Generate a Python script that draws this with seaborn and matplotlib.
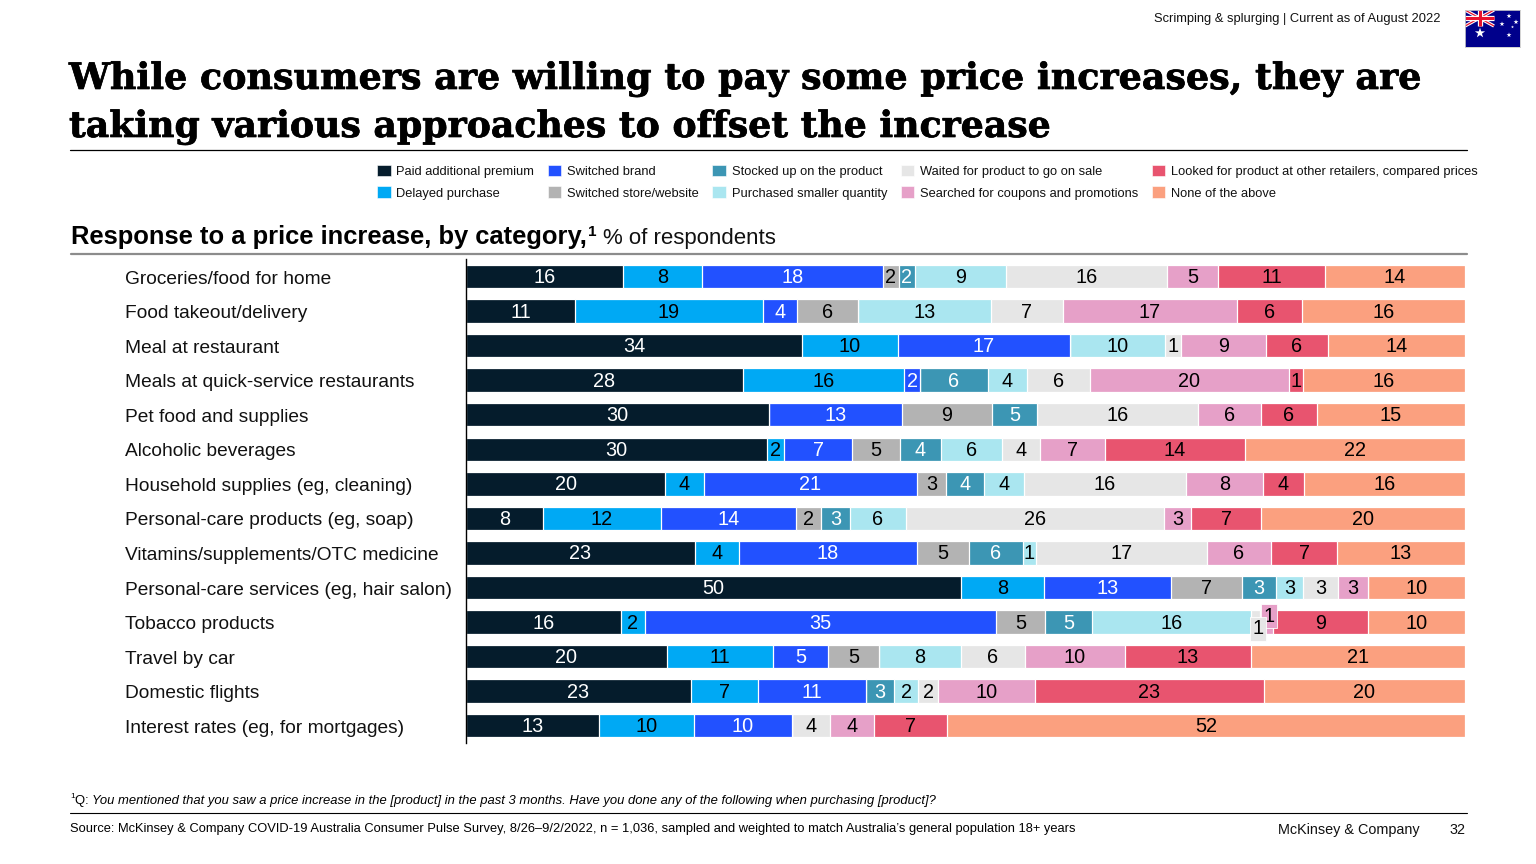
import numpy as np
import pandas as pd
import seaborn as sns
import matplotlib.pyplot as plt
import matplotlib.patheffects as pe
from matplotlib.lines import Line2D
from matplotlib.patches import Patch
from matplotlib.transforms import ScaledTranslation

W, H = 1536, 864

categories = ["Groceries/food for home", "Food takeout/delivery", "Meal at restaurant",
              "Meals at quick-service restaurants", "Pet food and supplies", "Alcoholic beverages",
              "Household supplies (eg, cleaning)", "Personal-care products (eg, soap)",
              "Vitamins/supplements/OTC medicine", "Personal-care services (eg, hair salon)",
              "Tobacco products", "Travel by car", "Domestic flights", "Interest rates (eg, for mortgages)"]

series_names = ["Paid additional premium", "Delayed purchase", "Switched brand", "Switched store/website",
                "Stocked up on the product", "Purchased smaller quantity", "Waited for product to go on sale",
                "Searched for coupons and promotions", "Looked for product at other retailers, compared prices",
                "None of the above"]
colors = ["#051C2C", "#00A9F4", "#2251FF", "#B3B3B3", "#3C96B4", "#AAE6F0", "#E6E6E6", "#E6A0C8", "#E8546F", "#FBA07F"]
text_colors = ["white", "black", "white", "black", "white", "black", "black", "black", "black", "black"]

# unrounded shares
paid = [15.7, 10.9, 33.6, 27.7, 30.3, 30.1, 19.9, 7.7, 22.9, 49.5, 15.5, 20.1, 22.5, 13.3]
delayed = [7.9, 18.8, 9.6, 16.1, 0, 1.7, 3.9, 11.8, 4.4, 8.3, 2.4, 10.6, 6.7, 9.5]
brand = [18.1, 3.4, 17.2, 1.6, 13.3, 6.8, 21.3, 13.5, 17.8, 12.7, 35.1, 5.5, 10.8, 9.8]
store = [1.6, 6.1, 0, 0, 9.0, 4.8, 2.9, 2.5, 5.2, 7.1, 4.9, 5.1, 0, 0]
stocked = [1.6, 0, 0, 6.8, 4.5, 4.1, 3.8, 2.9, 5.4, 3.4, 4.7, 0, 2.8, 0]
smaller = [9.1, 13.3, 9.5, 3.9, 0, 6.1, 4.0, 5.6, 1.3, 2.7, 15.9, 8.2, 2.4, 0]
waited = [16.1, 7.2, 1.6, 6.3, 16.1, 3.8, 16.2, 25.8, 17.1, 3.5, 0.9, 6.4, 2.0, 3.8]
coupons = [5.1, 17.4, 8.5, 19.9, 6.3, 6.5, 7.7, 2.7, 6.4, 3.0, 1.3, 10.0, 9.7, 4.4]
looked = [10.7, 6.5, 6.2, 1.4, 5.6, 14.0, 4.1, 7.0, 6.6, 0, 9.5, 12.6, 22.9, 7.3]
none = [14.0, 16.3, 13.7, 16.2, 14.8, 22.0, 16.1, 20.4, 12.8, 9.7, 9.7, 21.4, 20.1, 51.8]

# printed labels
paid_lab = [16, 11, 34, 28, 30, 30, 20, 8, 23, 50, 16, 20, 23, 13]
delayed_lab = [8, 19, 10, 16, 0, 2, 4, 12, 4, 8, 2, 11, 7, 10]
brand_lab = [18, 4, 17, 2, 13, 7, 21, 14, 18, 13, 35, 5, 11, 10]
store_lab = [2, 6, 0, 0, 9, 5, 3, 2, 5, 7, 5, 5, 0, 0]
stocked_lab = [2, 0, 0, 6, 5, 4, 4, 3, 6, 3, 5, 0, 3, 0]
smaller_lab = [9, 13, 10, 4, 0, 6, 4, 6, 1, 3, 16, 8, 2, 0]
waited_lab = [16, 7, 1, 6, 16, 4, 16, 26, 17, 3, 1, 6, 2, 4]
coupons_lab = [5, 17, 9, 20, 6, 7, 8, 3, 6, 3, 1, 10, 10, 4]
looked_lab = [11, 6, 6, 1, 6, 14, 4, 7, 7, 0, 9, 13, 23, 7]
none_lab = [14, 16, 14, 16, 15, 22, 16, 20, 13, 10, 10, 21, 20, 52]

values = np.array([paid, delayed, brand, store, stocked, smaller, waited, coupons, looked, none])
labels = np.array([paid_lab, delayed_lab, brand_lab, store_lab, stocked_lab, smaller_lab, waited_lab,
                   coupons_lab, looked_lab, none_lab])

sns.set_theme(style="white")
plt.rcParams['font.family'] = ['Liberation Sans', 'DejaVu Sans']


def px_text(x, y, s, **kw):
    kw.setdefault('va', 'baseline')
    return fig.text(x / W, 1 - y / H, s, **kw)


def px_line(x0, x1, y, color, lw):
    fig.add_artist(Line2D([x0 / W, x1 / W], [1 - y / H, 1 - y / H], color=color, lw=lw))


fig = plt.figure(figsize=(W / 100, H / 100), dpi=100)
ax = fig.add_axes([466 / W, 1 - 743 / H, 999 / W, (743 - 259.2) / H])

# stacked bars: paint the longest cumulative first, shorter ones on top
cum = values.cumsum(axis=0)
for i in range(len(values) - 1, -1, -1):
    df = pd.DataFrame({'share': cum[i], 'category': categories})
    sns.barplot(data=df, x='share', y='category', color=colors[i], saturation=1, width=0.68,
                edgecolor='white', linewidth=0.9, ax=ax)

ax.set_xlim(0, 99.9)
ax.set_ylim(13.5, -0.5)
ax.set_xlabel('')
ax.set_ylabel('')
ax.set_xticks([])
sns.despine(ax=ax, left=False, bottom=True)
ax.spines['left'].set_color('black')
ax.spines['left'].set_linewidth(1.0)
ax.set_yticks(range(len(categories)), categories, ha='left', fontsize=13.82, color='#111111')
ax.tick_params(axis='y', length=0, pad=341 * 0.72)
for lab in ax.get_yticklabels():
    lab.set_transform(lab.get_transform() + ScaledTranslation(0, -0.6 / 100, fig.dpi_scale_trans))

# segment labels
starts = cum - values
for i in range(values.shape[0]):
    for j in range(values.shape[1]):
        if labels[i, j] == 0:
            continue
        mid = starts[i, j] + values[i, j] / 2
        kw = {}
        y = j + 0.03
        # the two tiny tobacco segments get pulled apart with a box
        if categories[j] == "Tobacco products" and i in (6, 7):
            y = j + (0.2 if i == 6 else -0.17)
            mid += 0.25
            kw = dict(bbox=dict(boxstyle='square,pad=0.12', fc=colors[i], ec='white', lw=0.6), zorder=6 if i == 6 else 5)
        ax.text(mid, y, str(labels[i, j]), ha='center', va='center', color=text_colors[i], fontsize=14.3, **kw)

# header
px_text(1441, 22, "Scrimping & splurging | Current as of August 2022", ha='right', fontsize=9.27, color='#111111')
title_kw = dict(family='DejaVu Serif', fontweight='bold', color='black',
                path_effects=[pe.withStroke(linewidth=0.5, foreground='black')])
px_text(69, 89, "While consumers are willing to pay some price increases, they are", fontsize=26.24, **title_kw)
px_text(69, 137, "taking various approaches to offset the increase", fontsize=26.1, **title_kw)
px_line(70, 1467, 149.5, 'black', 0.9)

# legend, filled column by column
handles = [Patch(fc=c, ec='white', lw=0.4) for c in colors]
fig.legend(handles, series_names, ncol=5, loc='upper left', bbox_to_anchor=(377 / W, 1 - 164.5 / H),
           frameon=False, fontsize=9.3, handlelength=1.05, handleheight=1.05, handletextpad=0.45,
           columnspacing=1.04, labelspacing=0.66, borderpad=0, borderaxespad=0, labelcolor='#111111')

# subtitle
px_text(71, 244, "Response to a price increase, by category,", fontsize=18.4, fontweight='bold', color='black')
px_text(588, 236, "1", fontsize=11, fontweight='bold', color='black')
px_text(603, 244, "% of respondents", fontsize=16.05, color='#111111')
px_line(71, 1467, 253.5, '#8C8C8C', 1.6)

# footer
px_text(70, 798, "1", fontsize=6, color='black')
px_text(75, 804, "Q: ", fontsize=9.34, color='black')
px_text(92, 804, "You mentioned that you saw a price increase in the [product] in the past 3 months. "
                 "Have you done any of the following when purchasing [product]?", fontsize=9.34, style='italic', color='black')
px_line(70, 1467, 813, 'black', 0.8)
px_text(70, 832, "Source: McKinsey & Company COVID-19 Australia Consumer Pulse Survey, 8/26\u20139/2/2022, n = 1,036, "
                 "sampled and weighted to match Australia\u2019s general population 18+ years", fontsize=9.25, color='black')
px_text(1420, 834, "McKinsey & Company", ha='right', fontsize=10.35, color='#111111')
px_text(1466, 834, "32", ha='right', fontsize=10.35, color='#111111')

# flag
flag = fig.add_axes([1465 / W, 1 - 47 / H, 55 / W, 37 / H])
flag.set_facecolor('#00008B')
flag.set_xlim(0, 55)
flag.set_ylim(37, 0)
flag.set_xticks([])
flag.set_yticks([])
for s in flag.spines.values():
    s.set_color('#CCCCCC')
    s.set_linewidth(0.6)
flag.plot([0, 29], [0, 16], color='white', lw=2.4, solid_capstyle='butt')
flag.plot([0, 29], [16, 0], color='white', lw=2.4, solid_capstyle='butt')
flag.plot([0, 29], [0, 16], color='#E8112D', lw=0.9, solid_capstyle='butt')
flag.plot([0, 29], [16, 0], color='#E8112D', lw=0.9, solid_capstyle='butt')
flag.plot([14.5, 14.5], [0, 16], color='white', lw=3.8, solid_capstyle='butt')
flag.plot([0, 29], [8, 8], color='white', lw=3.8, solid_capstyle='butt')
flag.plot([14.5, 14.5], [0, 16], color='#E8112D', lw=2.2, solid_capstyle='butt')
flag.plot([0, 29], [8, 8], color='#E8112D', lw=2.2, solid_capstyle='butt')
flag.scatter([15, 44, 37, 51, 47.5, 44], [23, 6, 14, 12, 17, 25], marker='*', color='white',
             s=[60, 14, 14, 14, 5, 14], linewidths=0)

fig.savefig('out.png', dpi=100)
